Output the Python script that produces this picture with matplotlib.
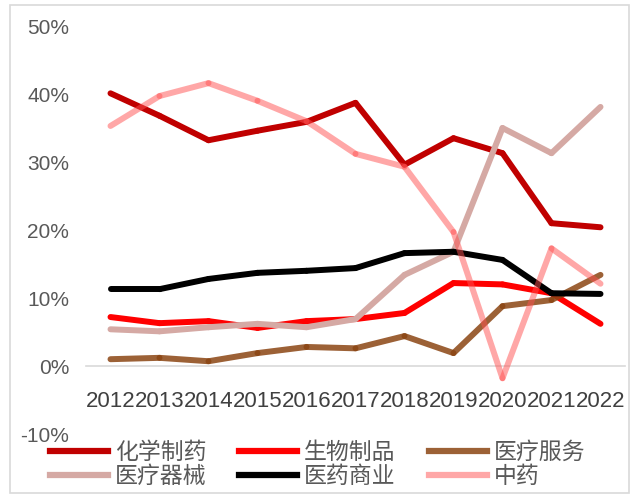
import numpy as np
import matplotlib
matplotlib.use("Agg")
import matplotlib.pyplot as plt
from matplotlib.patches import Rectangle

plt.rcParams['font.family'] = ['Liberation Sans', 'Noto Sans CJK SC', 'DejaVu Sans']

years = ['2012', '2013', '2014', '2015', '2016', '2017', '2018', '2019', '2020', '2021', '2022']

chem_drug = [40.1, 36.8, 33.2, 34.6, 35.9, 38.7, 29.6, 33.5, 31.3, 21.0, 20.4]
bio_product = [7.2, 6.3, 6.6, 5.6, 6.6, 6.9, 7.8, 12.2, 12.0, 10.7, 6.2]
med_service = [1.0, 1.2, 0.7, 1.9, 2.8, 2.6, 4.4, 1.9, 8.8, 9.7, 13.4]
med_device = [5.4, 5.1, 5.7, 6.2, 5.7, 6.9, 13.4, 16.8, 35.0, 31.3, 38.1]
med_commerce = [11.3, 11.3, 12.8, 13.7, 14.0, 14.4, 16.6, 16.8, 15.6, 10.7, 10.6]
tcm = [35.3, 39.7, 41.6, 39.0, 36.0, 31.2, 29.3, 19.7, -1.8, 17.3, 12.1]

series = [
    ('化学制药', chem_drug, '#C00000', 1.0),
    ('生物制品', bio_product, '#FF0000', 1.0),
    ('医疗服务', med_service, '#8B4513', 0.85),
    ('医疗器械', med_device, '#D5A9A4', 1.0),
    ('医药商业', med_commerce, '#000000', 1.0),
    ('中药', tcm, '#FF5050', 0.5),
]

fig = plt.figure(figsize=(6.36, 4.94), dpi=100)
ax = fig.add_axes([86 / 636, 60 / 494, 539 / 636, 408 / 494])

x = np.arange(len(years))
handles = {}
for name, vals, color, alpha in series:
    # draw segment by segment so translucent lines darken at the joints
    for i in range(len(vals) - 1):
        ln, = ax.plot(x[i:i + 2], vals[i:i + 2], color=color, alpha=alpha,
                      lw=4.3, solid_capstyle='round', solid_joinstyle='round')
    handles[name] = ln

ax.set_xlim(-0.5, len(years) - 0.5)
ax.set_ylim(-10, 50)
ax.set_yticks(range(-10, 51, 10))
ax.set_yticklabels([f'{v}%' for v in range(-10, 51, 10)])
ax.set_xticks(x)
ax.set_xticklabels(years)

for s in ['top', 'right', 'left']:
    ax.spines[s].set_visible(False)
ax.spines['bottom'].set_position(('data', 0))
ax.spines['bottom'].set_color('#D9D9D9')
ax.spines['bottom'].set_linewidth(1.2)
ax.spines['bottom'].set_zorder(0)
ax.tick_params(axis='x', length=0, pad=18, labelsize=16, labelcolor='#404040')
ax.tick_params(axis='y', length=0, pad=12, labelsize=15, labelcolor='#595959')

order = ['化学制药', '医疗器械', '生物制品', '医药商业', '医疗服务', '中药']
leg_handles = [plt.Line2D([], [], color=handles[n].get_color(), alpha=handles[n].get_alpha(), lw=4.5)
               for n in order]
fig.legend(leg_handles, order, loc='upper left', bbox_to_anchor=(50 / 636, 1 - 441 / 494),
           ncol=3, frameon=False, handlelength=2.53, handletextpad=0.3,
           columnspacing=1.44, labelspacing=0.05, borderaxespad=0, borderpad=0,
           labelcolor='#595959', prop={'family': ['Noto Sans CJK SC'], 'size': 16.5})

fig.patches.append(Rectangle((10 / 636, 1 / 494), 619 / 636, 488 / 494, transform=fig.transFigure,
                             fill=False, edgecolor='#D9D9D9', lw=1.2))

fig.savefig('out.png', dpi=100)
